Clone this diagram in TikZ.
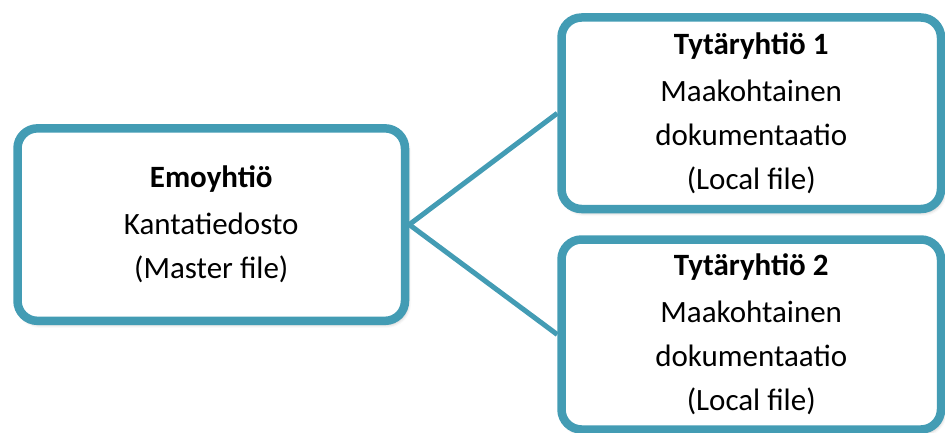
\documentclass[tikz,border=0pt]{standalone}
\usepackage{fontspec}
\setmainfont{Carlito}
\usetikzlibrary{shadows.blur}
\definecolor{boxteal}{RGB}{67,156,180}
\begin{document}
\begin{tikzpicture}[x=1pt,y=-1pt,
  box/.style={draw=boxteal, line width=8.5pt, rounded corners=20pt, fill=white,
    inner sep=0pt, align=center, font=\fontsize{31}{44}\selectfont,
    blur shadow={shadow xshift=2pt, shadow yshift=-3pt, shadow blur radius=4pt, shadow opacity=35}},
  link/.style={draw=boxteal, line width=5pt}]
\useasboundingbox (0,0) rectangle (945,433);
\node[box, minimum width=387.5pt, minimum height=192.5pt] (L) at (211.25,224.6)
  {\textbf{Emoyhtiö}\\[3pt]Kantatiedosto\\(Master file)};
\node[box, minimum width=379.5pt, minimum height=191.5pt] (T) at (751.25,113.25)
  {\textbf{Tytäryhtiö 1}\\[3pt]Maakohtainen\\dokumentaatio\\(Local file)};
\node[box, minimum width=379.5pt, minimum height=190pt] (B) at (751.25,334.5)
  {\textbf{Tytäryhtiö 2}\\[3pt]Maakohtainen\\dokumentaatio\\(Local file)};
\draw[link] (L.east) -- (T.west);
\draw[link] (L.east) -- (B.west);
\end{tikzpicture}
\end{document}
